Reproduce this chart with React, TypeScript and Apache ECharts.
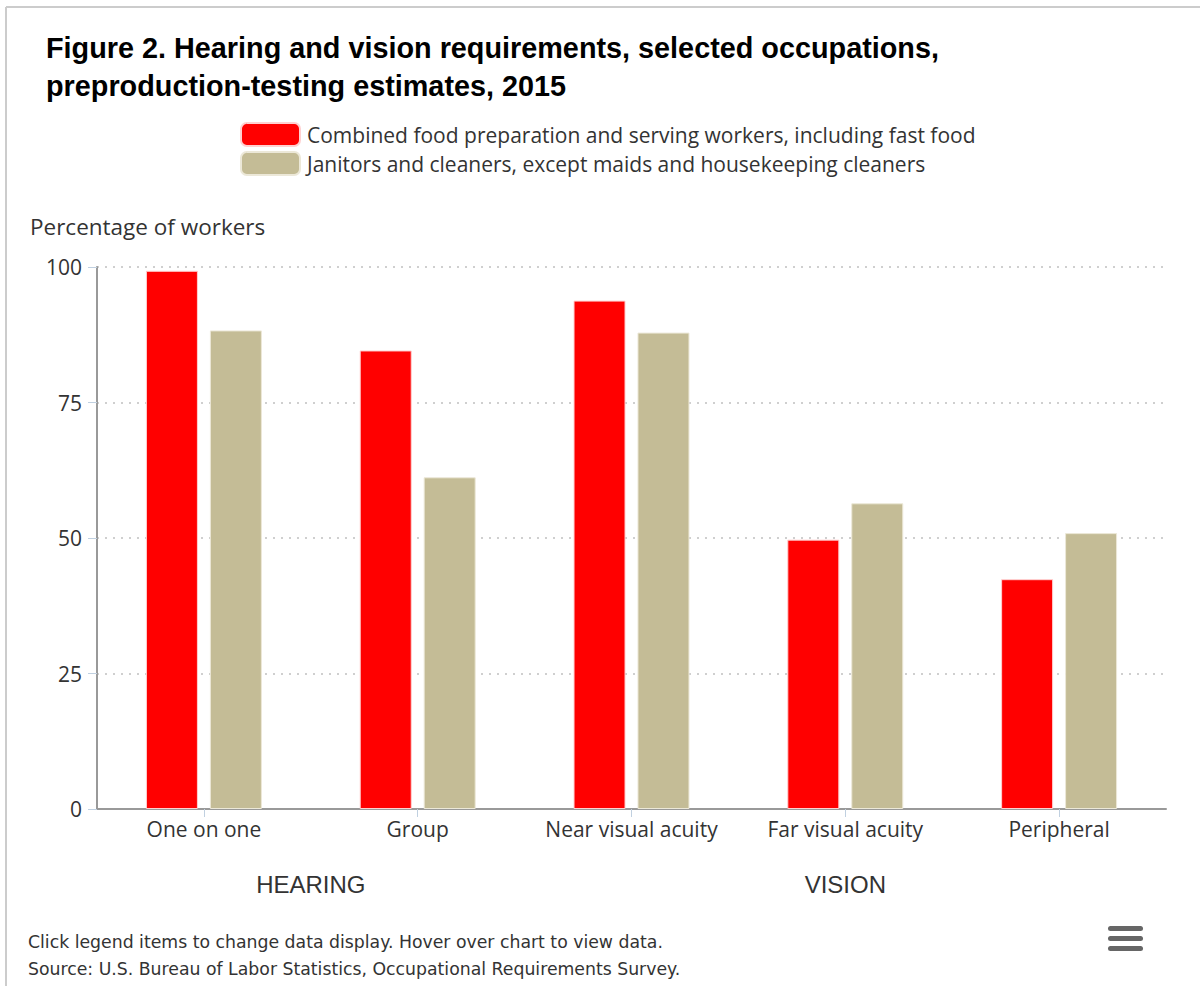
import React, { useEffect, useRef } from "react";
import * as echarts from "echarts";

const categories = ["One on one", "Group", "Near visual acuity", "Far visual acuity", "Peripheral"];
const foodWorkers = [99.3, 84.6, 93.8, 49.7, 42.4];
const janitors = [88.3, 61.2, 87.9, 56.4, 50.9];
const seriesNames = [
  "Combined food preparation and serving workers, including fast food",
  "Janitors and cleaners, except maids and housekeeping cleaners",
];
const yMin = 0;
const yMax = 100;
const yInterval = 25;
const groups = [
  { name: "HEARING", from: 0, to: 1 },
  { name: "VISION", from: 2, to: 4 },
];
const titleLines = [
  "Figure 2. Hearing and vision requirements, selected occupations,",
  "preproduction-testing estimates, 2015",
];
const footnotes = [
  "Click legend items to change data display. Hover over chart to view data.",
  "Source: U.S. Bureau of Labor Statistics, Occupational Requirements Survey.",
];

const RED = "#ff0000";
const TAN = "#c4bc96";
const LABEL_FONT = "Open Sans";

export default function App() {
  const ref = useRef<HTMLDivElement>(null);
  useEffect(() => {
    if (!ref.current) return;
    const chart = echarts.init(ref.current, undefined, { renderer: "svg" });
    const option: any = {
      animation: false,
      backgroundColor: "#ffffff",
      grid: { left: 97, right: 34, top: 267, bottom: 177, containLabel: false },
      legend: {
        orient: "vertical",
        left: 240,
        top: 122,
        padding: 0,
        itemWidth: 59,
        itemHeight: 23,
        itemGap: 4,
        icon: "roundRect",
        selectedMode: true,
        textStyle: {
          fontFamily: LABEL_FONT,
          fontSize: 21,
          lineHeight: 23,
          color: "#333",
          padding: [0, 0, 0, 2],
        },
        data: seriesNames,
      },
      xAxis: {
        type: "category",
        data: categories,
        axisLine: { show: true, lineStyle: { color: "#999", width: 2 } },
        axisTick: { show: true, alignWithLabel: true, length: 8, lineStyle: { color: "#C0D0E0", width: 1 } },
        axisLabel: { interval: 0, fontFamily: LABEL_FONT, fontSize: 21, color: "#333", margin: 9 },
        splitLine: { show: false },
      },
      yAxis: {
        type: "value",
        min: yMin,
        max: yMax,
        interval: yInterval,
        axisLine: { show: true, lineStyle: { color: "#999", width: 2 } },
        axisTick: { show: true, length: 9, lineStyle: { color: "#C0D0E0", width: 1 } },
        axisLabel: { fontFamily: LABEL_FONT, fontSize: 21, color: "#333", margin: 15 },
        splitLine: { show: true, lineStyle: { color: "#cfcfcf", width: 2, type: [2, 6] } },
      },
      series: [
        {
          name: seriesNames[0],
          type: "bar",
          data: foodWorkers,
          barWidth: 52,
          barGap: "23%",
          itemStyle: { color: RED, borderColor: "#ffd0d0", borderWidth: 1 },
        },
        {
          name: seriesNames[1],
          type: "bar",
          data: janitors,
          barWidth: 52,
          barGap: "23%",
          itemStyle: { color: TAN, borderColor: "#ece8d8", borderWidth: 1 },
        },
      ],
    };
    chart.setOption(option);

    const groupTexts = groups.map((g) => {
      const a = chart.convertToPixel({ xAxisIndex: 0 }, g.from) as number;
      const b = chart.convertToPixel({ xAxisIndex: 0 }, g.to) as number;
      return {
        type: "text",
        x: (a + b) / 2,
        y: 884,
        style: {
          text: g.name,
          fill: "#333",
          font: '24px "Liberation Sans", Arial, sans-serif',
          textAlign: "center",
          textVerticalAlign: "middle",
        },
      };
    });

    chart.setOption({
      graphic: [
        { type: "line", shape: { x1: 6, y1: 7, x2: 1200, y2: 7 }, style: { stroke: "#cccccc", lineWidth: 2 } },
        { type: "line", shape: { x1: 6, y1: 7, x2: 6, y2: 986 }, style: { stroke: "#cccccc", lineWidth: 2 } },
        ...titleLines.map((t, i) => ({
          type: "text",
          x: 46,
          y: 48 + i * 38,
          style: {
            text: t,
            fill: "#000",
            font: 'bold 28.8px "Liberation Sans", Arial, sans-serif',
            textVerticalAlign: "middle",
          },
        })),
        {
          type: "text",
          x: 30,
          y: 226,
          style: {
            text: "Percentage of workers",
            fill: "#333",
            font: `22.5px "${LABEL_FONT}", sans-serif`,
            textVerticalAlign: "middle",
          },
        },
        ...groupTexts,
        ...footnotes.map((t, i) => ({
          type: "text",
          x: 28,
          y: 942 + i * 27,
          style: {
            text: t,
            fill: "#333",
            font: '17.3px "DejaVu Sans", Verdana, sans-serif',
            textVerticalAlign: "middle",
          },
        })),
        ...[0, 1, 2].map((i) => ({
          type: "rect",
          shape: { x: 1108, y: 926 + i * 10, width: 35, height: 5, r: 2.5 },
          style: { fill: "#666" },
        })),
      ],
    });

    return () => chart.dispose();
  }, []);
  return (
    <div
      ref={ref}
      style={{ position: "absolute", left: 0, top: 0, width: 1200, height: 986 }}
    />
  );
}
